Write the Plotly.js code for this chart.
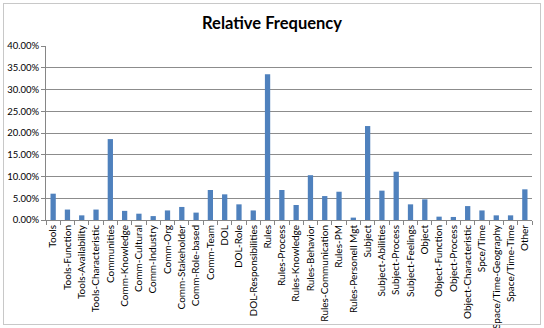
<!DOCTYPE html>
<html>
<head>
<meta charset="utf-8">
<script src="https://cdn.plot.ly/plotly-3.0.1.min.js"></script>
<style>
  html, body { margin: 0; padding: 0; background: #ffffff; }
  #wrap { position: relative; width: 544px; height: 328px; }
  #chart { position: absolute; left: 0; top: 0; width: 544px; height: 328px; }
  #frame { position: absolute; left: 3px; top: 3px; width: 536px; height: 320px;
           border: 1px solid #c8c8c8; pointer-events: none; }
</style>
</head>
<body>
<div id="wrap">
  <div id="chart"></div>
  <div id="frame"></div>
</div>
<script>
// Code categories
const categories = [
  "Tools", "Tools-Function", "Tools-Availability", "Tools-Characteristic",
  "Communities", "Comm-Knowledge", "Comm-Cultural", "Comm-Industry", "Comm-Org",
  "Comm-Stakeholder", "Comm-Role-based", "Comm-Team", "DOL", "DOL-Role",
  "DOL-Responsibilities", "Rules", "Rules-Process", "Rules-Knowledge",
  "Rules-Behavior", "Rules-Communication", "Rules-PM", "Rules-Personell Mgt",
  "Subject", "Subject-Abilities", "Subject-Process", "Subject-Feelings",
  "Object", "Object-Function", "Object-Process", "Object-Characteristic",
  "Spce/Time", "Space/Time-Geography", "Space/Time-Time", "Other"
];

// Relative frequency of each category (fraction of all coded items)
const relativeFrequency = [
  0.0605, 0.024, 0.0107, 0.024,
  0.186, 0.021, 0.0145, 0.009, 0.022,
  0.030, 0.017, 0.069, 0.059, 0.036,
  0.022, 0.335, 0.069, 0.0345,
  0.103, 0.055, 0.065, 0.0055,
  0.216, 0.0675, 0.111, 0.036,
  0.0475, 0.0077, 0.007, 0.032,
  0.022, 0.0107, 0.0107, 0.0705
];

// Value-axis ticks
const yTickValues = [0, 0.05, 0.10, 0.15, 0.20, 0.25, 0.30, 0.35, 0.40];
const yTickLabels = ["0.00%", "5.00%", "10.00%", "15.00%", "20.00%", "25.00%", "30.00%", "35.00%", "40.00%"];

const font = "Lato, 'Open Sans', 'Liberation Sans', sans-serif";

const trace = {
  type: "bar",
  x: categories,
  y: relativeFrequency,
  marker: { color: "#4F81BD", line: { width: 0 } },
  hoverinfo: "x+y"
};

const layout = {
  width: 544,
  height: 328,
  margin: { l: 46, r: 12, t: 46, b: 108, pad: 0 },
  paper_bgcolor: "#ffffff",
  plot_bgcolor: "#ffffff",
  showlegend: false,
  bargap: 0.63,
  font: { family: font, size: 9, color: "#000000" },
  title: {
    text: "<b>Relative Frequency</b>",
    font: { family: font, size: 16.5, color: "#000000" },
    x: 0.5, xref: "container",
    y: 0.928, yref: "container", yanchor: "middle"
  },
  xaxis: {
    type: "category",
    tickangle: -90,
    tickson: "boundaries",
    ticks: "outside",
    ticklen: 4,
    tickcolor: "#868686",
    showline: true,
    linecolor: "#868686",
    linewidth: 1,
    showgrid: false,
    tickfont: { family: font, size: 10, color: "#000000" },
    automargin: false
  },
  yaxis: {
    range: [0, 0.40],
    tickvals: yTickValues,
    ticktext: yTickLabels,
    ticks: "outside",
    ticklen: 4,
    tickcolor: "#868686",
    showline: true,
    linecolor: "#868686",
    linewidth: 1,
    showgrid: true,
    gridcolor: "#8c8c8c",
    gridwidth: 1,
    zeroline: false,
    tickfont: { family: font, size: 9.5, color: "#000000" },
    automargin: false
  }
};

Plotly.newPlot("chart", [trace], layout, { staticPlot: true, displayModeBar: false });
</script>
</body>
</html>
